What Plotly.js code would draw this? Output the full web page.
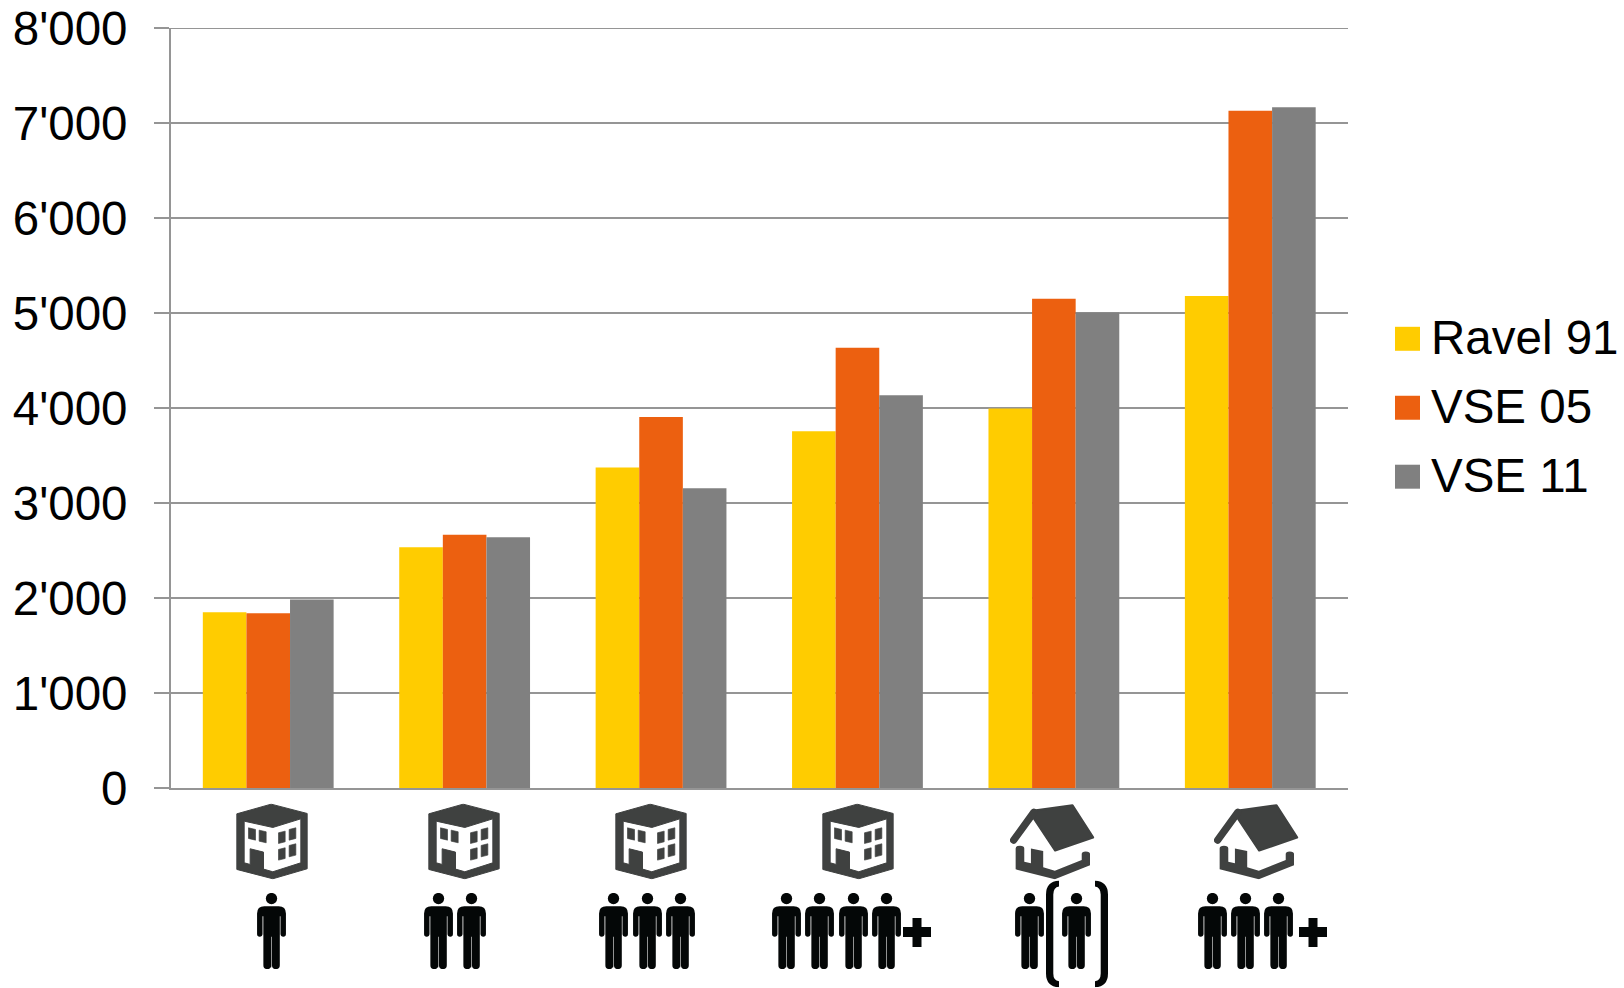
<!DOCTYPE html>
<html>
<head>
<meta charset="utf-8">
<script src="https://cdn.plot.ly/plotly-3.0.1.min.js"></script>
<style>html,body{margin:0;padding:0;background:#fff;overflow:hidden}</style>
</head>
<body>
<div id="chart" style="width:1624px;height:988px"></div>
<script>
// Annual household electricity use by dwelling type and household size
const categories = ['Apartment, 1 person','Apartment, 2 persons','Apartment, 3 persons','Apartment, 4+ persons','House, 1-2 persons','House, 3+ persons'];
const ravel91 = [1850, 2535, 3375, 3755, 3995, 5180];
const vse05   = [1840, 2665, 3905, 4635, 5150, 7130];
const vse11   = [1985, 2640, 3155, 4135, 5005, 7165];
const seriesNames = ['Ravel 91', 'VSE 05', 'VSE 11'];
const seriesColors = ['#FFCC00', '#EC6010', '#808080'];
const yTicks = [0, 1000, 2000, 3000, 4000, 5000, 6000, 7000, 8000];

const W = 1624, H = 988;
const M = {l: 171, r: 276, t: 28, b: 199.5};
const plotW = W - M.l - M.r, plotH = H - M.t - M.b;
const paperX = px => (px - M.l) / plotW;
const paperY = py => 1 - (py - M.t) / plotH;

const LINE = '#959595';
const FONT = '"Liberation Sans", Arial, sans-serif';

// Pictogram artwork
const DARK = '#3f4140', BLACK = '#040707', SEAM = '#8d8d8d';
const buildingSvg = `<path fill="${DARK}" stroke="${DARK}" stroke-width="3" stroke-linejoin="round" fill-rule="evenodd" d="M105,2 L213,30 V196 L110,226 L2,198 V31 Z
 M24,53 L110,72 L194,46 V178 L110,205 L82,197 V146 L42,136 V183 L24,178 Z"/>
 <g fill="${DARK}" stroke="${DARK}" stroke-width="2" stroke-linejoin="round"><path d="M37,73 L58,78 V110 L37,105 Z"/><path d="M69,80 L90,85 V118 L69,113 Z"/>
 <path d="M127,88 L147,83 V115 L127,120 Z"/><path d="M159,78 L179,73 V105 L159,110 Z"/>
 <path d="M127,138 L147,133 V165 L127,170 Z"/><path d="M159,126 L179,121 V155 L159,160 Z"/></g>`;
const houseSvg = `<g fill="${DARK}"><path stroke="${DARK}" stroke-width="7" stroke-linejoin="round" d="M73,21 L188,5 L250,102 L136,141 L73,46 Z"/>
 <path d="M72,26 L11,110" stroke="${DARK}" stroke-width="22" stroke-linecap="round" fill="none"/>
 <path d="M17,135 Q17,127 30,127 Q43,127 43,135 V175 L63,180 V135 L100,143 V192 L135,202 L216,170 V152 Q216,144 228,144 Q241,144 241,152 V186 L135,228 L17,198 Z"/></g>`;
const personSvg = `<path stroke="${SEAM}" stroke-width="2.5" fill="none" d="M17.5,68 V126 M69.5,68 V126 M44,130 V224"/>
 <circle cx="43.5" cy="17" r="17" fill="${BLACK}"/>
 <path fill="${BLACK}" d="M0,62 Q0,40 22,40 H65 Q87,40 87,62 V124 a8,8 0 0 1 -16,0 V70 H68.5 V218 a11,11 0 0 1 -23.5,0 V132 H42.5 V218 a11,11 0 0 1 -23.5,0 V70 H16 V124 a8,8 0 0 1 -16,0 Z"/>`;
const plusSvg = `<path fill="${BLACK}" d="M9.5,0 H18.5 V9 H28 V19 H18.5 V29 H9.5 V19 H0 V9 H9.5 Z"/>`;
const bracketLeftSvg = `<path fill="${BLACK}" d="M13,0 V6 Q7.3,7 7.3,14 V93 Q7.3,100 13,101 V107 Q0,106 0,93 V14 Q0,1 13,0 Z"/>`;
const bracketRightSvg = `<path fill="${BLACK}" d="M0,0 V6 Q5.7,7 5.7,14 V93 Q5.7,100 0,101 V107 Q13,106 13,93 V14 Q13,1 0,0 Z"/>`;

function icon(body, vbW, vbH, x, y, w, h) {
  const svg = `<svg xmlns="http://www.w3.org/2000/svg" viewBox="0 0 ${vbW} ${vbH}" width="${w * 4}" height="${h * 4}">${body}</svg>`;
  return {
    source: 'data:image/svg+xml;charset=utf-8,' + encodeURIComponent(svg),
    xref: 'paper', yref: 'paper', x: paperX(x), y: paperY(y),
    sizex: w / plotW, sizey: h / plotH,
    xanchor: 'left', yanchor: 'top', sizing: 'stretch', layer: 'above'
  };
}
const building = x => icon(buildingSvg, 215, 228, x, 804, 72, 76);
const house = x => icon(houseSvg, 256, 228, x, 804, 85, 76);
const person = x => icon(personSvg, 87, 229, x, 893.5, 29, 76);
const plus = x => icon(plusSvg, 28, 29, x, 918.5, 28, 29);

const images = [
  building(236), building(428), building(615), building(822), house(1010), house(1214),
  person(257),
  person(424), person(457),
  person(599), person(633), person(666),
  person(772), person(805), person(839), person(872), plus(903),
  person(1015), person(1062),
  icon(bracketLeftSvg, 13, 107, 1046, 881, 13, 107),
  icon(bracketRightSvg, 13, 107, 1095, 881, 13, 107),
  person(1198), person(1231), person(1264), plus(1299)
];

const traces = [ravel91, vse05, vse11].map((vals, i) => ({
  type: 'bar', x: categories, y: vals, name: seriesNames[i],
  marker: {color: seriesColors[i], line: {width: 0}}, hoverinfo: 'x+y+name'
}));

// Legend keys and labels placed beside the plot
const legendCentres = [339, 408, 477];
const legendKeys = seriesNames.map((n, i) => ({
  type: 'rect', xref: 'paper', yref: 'paper', layer: 'above',
  x0: paperX(1395), x1: paperX(1420),
  y0: paperY(legendCentres[i] - 12), y1: paperY(legendCentres[i] + 12),
  fillcolor: seriesColors[i], line: {width: 0}
}));
// The gridline at the top of the range sits on the plot edge, so it is added separately
const topGridline = {
  type: 'line', xref: 'paper', yref: 'y', layer: 'below',
  x0: 0, x1: 1, y0: 8000, y1: 8000, line: {color: LINE, width: 2}
};
const annotations = seriesNames.map((n, i) => ({
  text: n, xref: 'paper', yref: 'paper', showarrow: false,
  x: paperX(1429), y: paperY(legendCentres[i] - 1), xanchor: 'left', yanchor: 'middle',
  font: {family: FONT, size: 47.5, color: '#000'}
}));

const layout = {
  width: W, height: H,
  margin: {l: M.l, r: M.r, t: M.t, b: M.b, pad: 0},
  paper_bgcolor: '#fff', plot_bgcolor: '#fff',
  separators: ".'",
  font: {family: FONT, color: '#000'},
  showlegend: false,
  barmode: 'group', bargap: 0.334, bargroupgap: 0,
  xaxis: {
    type: 'category', categoryorder: 'array', categoryarray: categories,
    range: [-0.495, 5.4975],
    showticklabels: false, ticks: '', showgrid: false, zeroline: false,
    showline: true, linecolor: LINE, linewidth: 2
  },
  yaxis: {
    range: [0, 8000], tickmode: 'array', tickvals: yTicks, tickformat: ',d',
    tickfont: {size: 47.5, color: '#000', family: FONT},
    ticks: 'outside', ticklen: 15, tickwidth: 2, tickcolor: LINE, ticklabelstandoff: 17,
    showgrid: true, gridcolor: LINE, gridwidth: 2, zeroline: false,
    showline: true, linecolor: LINE, linewidth: 2
  },
  images, shapes: [topGridline].concat(legendKeys), annotations
};

Plotly.newPlot('chart', traces, layout, {displayModeBar: false, responsive: false});
</script>
</body>
</html>
